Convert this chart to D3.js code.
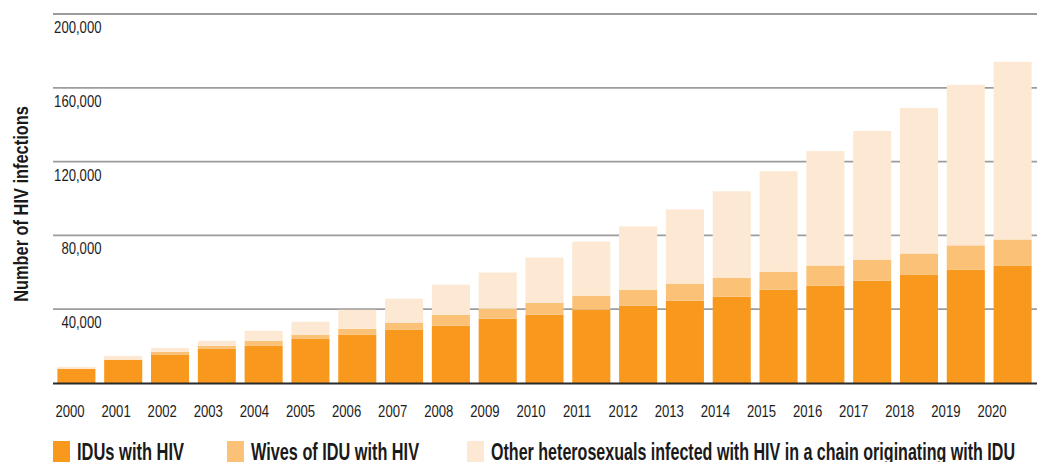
<!DOCTYPE html>
<html>
<head>
<meta charset="utf-8">
<script src="https://cdn.jsdelivr.net/npm/d3@7"></script>
<style>
  body { margin: 0; background: #fff; }
  svg { display: block; font-family: "Liberation Sans", Arial, sans-serif; }
</style>
</head>
<body>
<div class="graph"></div>
<script>
const years = ["2000","2001","2002","2003","2004","2005","2006","2007","2008","2009","2010",
  "2011","2012","2013","2014","2015","2016","2017","2018","2019","2020"];

// stacked pieces
const idus = [7600,12500,15200,18500,20100,23900,26100,28800,31000,34800,37000,
  39700,41900,44600,46800,50600,52800,55500,58800,61500,63700];
const wives = [200,200,1700,1600,2800,2200,3300,3900,6000,5500,6500,
  7600,8700,9300,10300,9800,10900,11400,11400,13100,14100];
const others = [900,2000,2100,2800,5400,7100,10300,13000,16300,19600,24500,
  29400,34300,40200,46800,54400,62000,69700,78900,87000,96300];

const yTicks = [40000, 80000, 120000, 160000, 200000];

const keys = ["idus", "wives", "others"];
const legendLabels = ["IDUs with HIV", "Wives of IDU with HIV",
  "Other heterosexuals infected with HIV in a chain originating with IDU"];
const colors = ["#f8991e", "#fac177", "#fde9d3"];

const W = 1039, H = 462;
const narrow = 0.82; // squeeze Liberation Sans into a condensed look

const svg = d3.select(".graph").append("svg")
  .attr("width", W)
  .attr("height", H);

const x = d3.scaleBand().domain(years)
  .range([53, 1036])
  .paddingInner(0.187)
  .paddingOuter(0.0935);

const xl = d3.scalePoint().domain(years).range([70, 992]);

const y = d3.scaleLinear().domain([0, 200000]).range([383, 14]);

const z = d3.scaleOrdinal().domain(keys).range(colors);

const data = years.map((yr, i) => ({year: yr, idus: idus[i], wives: wives[i], others: others[i]}));
const stacked = d3.stack().keys(keys)(data);

// gridlines
svg.append("g")
  .selectAll("line")
  .data(yTicks)
  .enter().append("line")
    .attr("x1", 53)
    .attr("x2", 1037)
    .attr("y1", d => y(d))
    .attr("y2", d => y(d))
    .attr("stroke", "#9c9c9c")
    .attr("stroke-width", 1.8);

svg.append("g")
  .selectAll("text")
  .data(yTicks)
  .enter().append("text")
    .attr("transform", d => "translate(101.5," + (y(d) + 19) + ") scale(" + narrow + ",1)")
    .attr("text-anchor", "end")
    .attr("font-size", 16)
    .attr("fill", "#1e1e1e")
    .text(d => d3.format(",")(d));

// bars
svg.append("g")
  .selectAll("g")
  .data(stacked)
  .enter().append("g")
    .attr("fill", d => z(d.key))
  .selectAll("rect")
  .data(d => d)
  .enter().append("rect")
    .attr("x", d => x(d.data.year))
    .attr("width", x.bandwidth())
    .attr("y", d => y(d[1]))
    .attr("height", d => y(d[0]) - y(d[1]));

// baseline
svg.append("line")
  .attr("x1", 53)
  .attr("x2", 1037)
  .attr("y1", y(0) + 0.5)
  .attr("y2", y(0) + 0.5)
  .attr("stroke", "#2a2a2a")
  .attr("stroke-width", 2);

// year labels
svg.append("g")
  .selectAll("text")
  .data(years)
  .enter().append("text")
    .attr("transform", d => "translate(" + xl(d) + ",416.5) scale(" + narrow + ",1)")
    .attr("text-anchor", "middle")
    .attr("font-size", 16)
    .attr("fill", "#1e1e1e")
    .text(d => d);

// y title
svg.append("text")
  .attr("transform", "translate(28,204) rotate(-90) scale(" + narrow + ",1)")
  .attr("text-anchor", "middle")
  .attr("font-size", 20)
  .attr("font-weight", "bold")
  .attr("fill", "#1a1a1a")
  .text("Number of HIV infections");

// legend
const legendX = [53, 227, 467];
const legendW = [107, 168, 524];
const legend = svg.append("g")
  .selectAll("g")
  .data(keys)
  .enter().append("g")
    .attr("transform", (d, i) => "translate(" + legendX[i] + ",441)");

legend.append("rect")
  .attr("width", 17)
  .attr("height", 24)
  .attr("fill", d => z(d));

legend.append("text")
  .attr("x", 24)
  .attr("y", 18.5)
  .attr("font-size", 24)
  .attr("font-weight", "bold")
  .attr("fill", "#1a1a1a")
  .attr("textLength", (d, i) => legendW[i])
  .attr("lengthAdjust", "spacingAndGlyphs")
  .text((d, i) => legendLabels[i]);
</script>
</body>
</html>
